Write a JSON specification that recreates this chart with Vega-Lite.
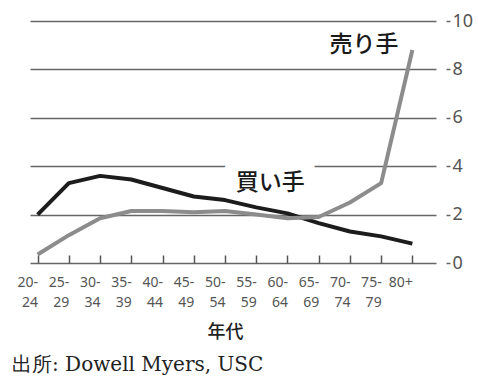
{
  "$schema": "https://vega.github.io/schema/vega-lite/v6.json",
  "width": 434,
  "height": 242,
  "autosize": {"type": "none"},
  "padding": {"left": 12, "top": 21, "right": 32, "bottom": 114},
  "background": "white",
  "config": {"view": {"stroke": null}, "font": "Noto Sans"},
  "title": {
    "text": "出所: Dowell Myers, USC",
    "orient": "bottom",
    "anchor": "start",
    "frame": "group",
    "font": "DejaVu Serif",
    "fontSize": 20,
    "fontWeight": "normal",
    "color": "#222",
    "offset": 14
  },
  "data": {
    "values": [
      {"age": "20-24", "series": "買い手", "value": 2.0},
      {"age": "25-29", "series": "買い手", "value": 3.3},
      {"age": "30-34", "series": "買い手", "value": 3.6},
      {"age": "35-39", "series": "買い手", "value": 3.45},
      {"age": "40-44", "series": "買い手", "value": 3.1},
      {"age": "45-49", "series": "買い手", "value": 2.75},
      {"age": "50-54", "series": "買い手", "value": 2.6},
      {"age": "55-59", "series": "買い手", "value": 2.3},
      {"age": "60-64", "series": "買い手", "value": 2.05},
      {"age": "65-69", "series": "買い手", "value": 1.65},
      {"age": "70-74", "series": "買い手", "value": 1.3},
      {"age": "75-79", "series": "買い手", "value": 1.1},
      {"age": "80+", "series": "買い手", "value": 0.8},
      {"age": "20-24", "series": "売り手", "value": 0.35},
      {"age": "25-29", "series": "売り手", "value": 1.15},
      {"age": "30-34", "series": "売り手", "value": 1.85},
      {"age": "35-39", "series": "売り手", "value": 2.15},
      {"age": "40-44", "series": "売り手", "value": 2.15},
      {"age": "45-49", "series": "売り手", "value": 2.1},
      {"age": "50-54", "series": "売り手", "value": 2.15},
      {"age": "55-59", "series": "売り手", "value": 2.0},
      {"age": "60-64", "series": "売り手", "value": 1.85},
      {"age": "65-69", "series": "売り手", "value": 1.9},
      {"age": "70-74", "series": "売り手", "value": 2.5},
      {"age": "75-79", "series": "売り手", "value": 3.3},
      {"age": "80+", "series": "売り手", "value": 8.8}
    ]
  },
  "layer": [
    {
      "data": {"values": [{"age": "55-59", "value": 3.3, "label": "買い手"}]},
      "mark": {"type": "text", "dx": 14, "fontSize": 23, "font": "Noto Sans CJK JP", "fontWeight": 500, "stroke": "white", "strokeWidth": 28, "strokeJoin": "round", "fill": "white"},
      "encoding": {
        "x": {"field": "age", "type": "ordinal"},
        "y": {"field": "value", "type": "quantitative"},
        "text": {"field": "label"}
      }
    },
    {
      "mark": {"type": "line", "strokeWidth": 4, "strokeJoin": "round"},
      "encoding": {
        "x": {
          "field": "age",
          "type": "ordinal",
          "sort": ["20-24","25-29","30-34","35-39","40-44","45-49","50-54","55-59","60-64","65-69","70-74","75-79","80+"],
          "scale": {"type": "point", "range": [10, 416]},
          "axis": {
            "orient": "bottom",
            "offset": -8,
            "domain": false,
            "grid": false,
            "ticks": true,
            "tickSize": 8,
            "tickColor": "#555",
            "tickWidth": 1.5,
            "labelExpr": "datum.value == '80+' ? '80+' : [split(datum.value,'-')[0] + '-', split(datum.value,'-')[1]]",
            "labelAngle": 0,
            "labelFontSize": 14,
            "labelColor": "#555",
            "labelLineHeight": 20,
            "labelBaseline": "top",
            "labelPadding": 12,
            "title": "年代",
            "titleFont": "Noto Sans CJK JP",
            "titleFontSize": 18,
            "titleFontWeight": 500,
            "titleColor": "#222",
            "titlePadding": 14
          }
        },
        "y": {
          "field": "value",
          "type": "quantitative",
          "scale": {"domain": [0, 10], "nice": false},
          "axis": {
            "orient": "right",
            "values": [0, 2, 4, 6, 8, 10],
            "grid": true,
            "gridColor": "#666",
            "gridWidth": 1.5,
            "domain": false,
            "ticks": true,
            "tickSize": 4,
            "tickColor": "#666",
            "tickWidth": 1.5,
            "labelFontSize": 18,
            "labelColor": "#555",
            "labelPadding": 2,
            "title": null
          }
        },
        "color": {
          "field": "series",
          "type": "nominal",
          "scale": {"domain": ["買い手", "売り手"], "range": ["#1c1c1c", "#8c8c8c"]},
          "legend": null
        }
      }
    },
    {
      "data": {"values": [{"age": "55-59", "value": 3.3, "label": "買い手"}, {"age": "70-74", "value": 9.0, "label": "売り手"}]},
      "mark": {"type": "text", "dx": 14, "fontSize": 23, "font": "Noto Sans CJK JP", "fontWeight": 500, "fill": "#1a1a1a"},
      "encoding": {
        "x": {"field": "age", "type": "ordinal"},
        "y": {"field": "value", "type": "quantitative"},
        "text": {"field": "label"}
      }
    }
  ]
}
